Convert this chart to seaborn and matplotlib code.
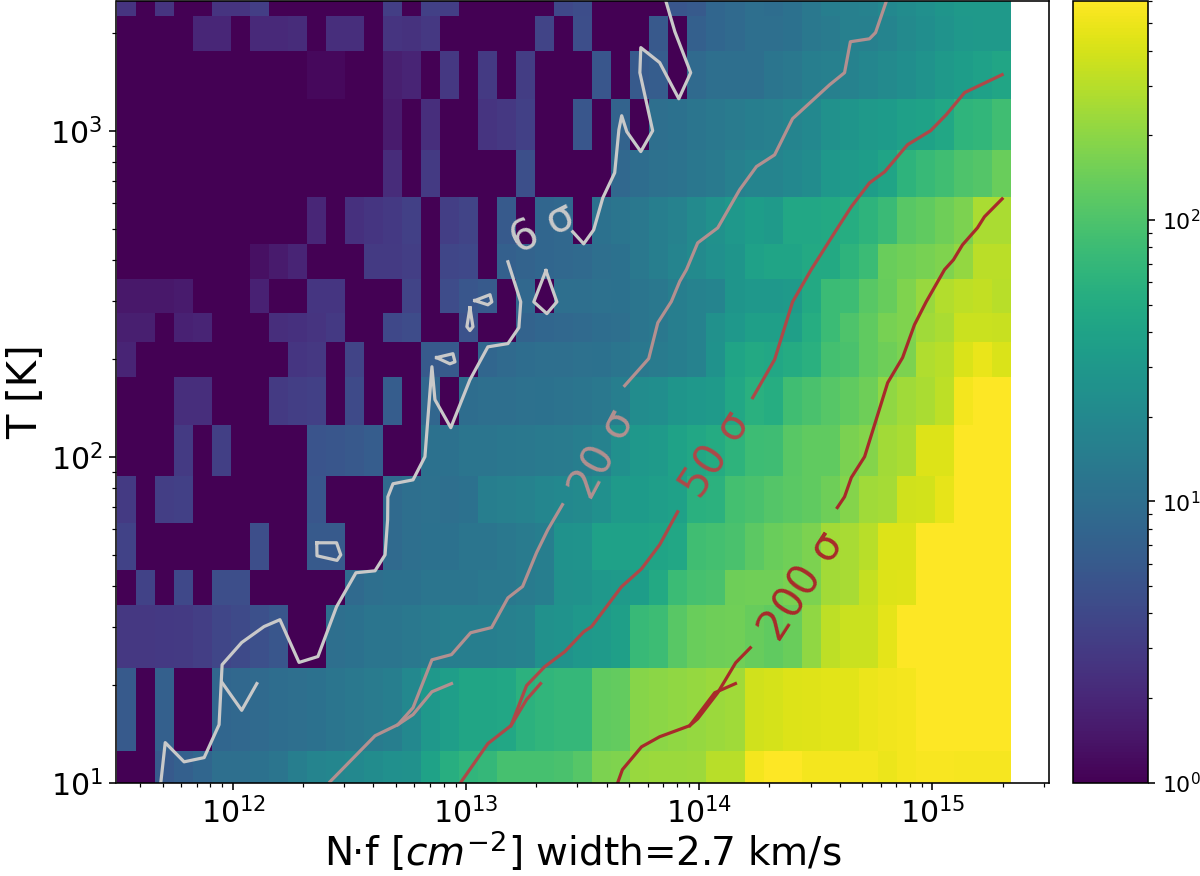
import numpy as np
import pandas as pd
import matplotlib
matplotlib.use("Agg")
import matplotlib.pyplot as plt
import seaborn as sns
from matplotlib.colors import LogNorm

# temperature grid, cell edges sit between the sampled temperatures
temp_edges = [10, 12.5, 22.5, 35, 45, 62.5, 87.5, 125, 175, 225, 275, 350, 450, 625, 875, 1250, 1750, 2250, 2500]

# significance per column density bin
row_2500 = [2.6, 1, 2.6, 1, 1, 2.6, 2.6, 3.2, 1, 1, 1, 1, 1, 1, 3.2, 1, 3.4,
            3.2, 1, 1, 1, 1, 1, 4, 4.4, 1, 1, 1, 1, 5.5, 6, 8, 9, 10,
            9.5, 11, 13, 15, 16, 17, 20, 22, 24, 28, 31, 31, 31]
row_2000 = [1, 1, 1, 1, 2, 2, 1, 2.1, 2.1, 2.2, 1, 2.3, 2.3, 1, 2.6, 2.5, 2.8,
            1, 1, 1, 1, 1, 3.6, 1, 4.5, 1, 1, 1, 5.8, 1, 7, 8, 9, 10,
            10, 11, 13, 14, 16, 16, 18, 21, 23, 27, 30, 31, 31]
row_1500 = [1, 1, 1, 1, 1, 1, 1, 1, 1, 1, 1.15, 1.15, 1, 1, 1.7, 1.9, 1,
            2.8, 1, 3, 1, 3.1, 1, 1, 1, 5.5, 1, 6, 6.5, 1, 9, 10, 10, 10,
            12, 13, 15, 16, 17, 19, 21, 23, 27, 31, 34, 38, 43]
row_1000 = [1, 1, 1, 1, 1, 1, 1, 1, 1, 1, 1, 1, 1, 1, 1.6, 1, 2.3,
            1, 1, 2.6, 2.8, 3.4, 1, 1, 5.6, 1, 7.5, 1, 10, 11, 12, 13, 14, 15,
            16, 18, 20, 25, 28, 31, 33, 37, 40, 45, 64, 68, 85]
row_750 = [1, 1, 1, 1, 1, 1, 1, 1, 1, 1, 1, 1, 1, 1, 2.2, 1, 3,
           1, 1, 1, 1, 4.6, 1, 1, 1, 1, 8.5, 9.5, 10.5, 11.5, 12.5, 13.5, 16, 18,
           18, 20, 22, 30, 32, 34, 42, 62, 75, 85, 100, 107, 140]
row_500 = [1, 1, 1, 1, 1, 1, 1, 1, 1, 1, 2, 1, 2.4, 2.7, 2.9, 3.4, 1,
           3.2, 3.6, 1, 6, 1, 8, 8.5, 1, 11, 12, 13, 15, 17, 21, 25, 30, 34,
           32, 45, 45, 47, 52, 63, 76, 115, 125, 145, 170, 265, 265]
row_400 = [1, 1, 1, 1, 1, 1, 1, 1.3, 1.6, 1.9, 1, 1, 1, 3, 3, 3.2, 1,
           3.8, 4, 1, 7, 7.5, 8, 8.5, 9, 10, 11, 13, 15, 18, 21, 24, 28, 38,
           42, 42, 47, 47, 63, 78, 140, 150, 160, 175, 215, 310, 310]
row_300 = [1.5, 1.5, 1.5, 1.6, 1, 1, 1, 1.8, 1, 1, 2.7, 2.7, 1, 1, 1, 3.6, 1,
           4.3, 5.5, 6, 1, 8.5, 1, 10, 10, 10.5, 11, 12, 13, 15, 17, 18, 28, 30,
           30, 32, 48, 78, 80, 115, 135, 175, 225, 285, 316, 330, 300]
row_250 = [1.7, 1.7, 1, 1.8, 1.9, 1, 1, 1, 2.3, 2.4, 2.6, 2.9, 1, 1, 4, 4.3, 1,
           1, 5, 1, 1, 7.5, 8, 8.5, 9, 9.5, 10, 12, 13, 15, 17, 25, 30, 36,
           36, 36, 53, 78, 100, 125, 160, 175, 240, 265, 360, 360, 350]
row_200 = [1.9, 1, 1, 1, 1, 1, 1, 1, 1, 2.7, 2.8, 1, 3.6, 1, 1, 1, 6,
           6, 1, 8, 9, 9.5, 10, 10, 10.5, 11, 12, 13, 14, 15, 17, 26, 42, 48,
           45, 50, 58, 88, 95, 125, 145, 170, 280, 300, 420, 490, 420]
row_150 = [1, 1, 1, 2.3, 2.3, 1, 1, 1, 3, 3.2, 3.4, 1, 4.2, 1, 6.5, 1, 8,
           1, 9.5, 10, 10, 10.5, 11, 11.5, 12, 13, 15, 22, 23, 28, 30, 32, 45, 58,
           53, 85, 95, 110, 125, 145, 205, 240, 265, 320, 540, 650, 650]
row_100 = [1, 1, 1, 3, 1, 3.3, 1, 1, 1, 1, 5.3, 5.5, 5.8, 6.5, 1, 1, 11,
           11, 12, 12, 12.5, 13, 13.5, 14, 15, 17, 24, 30, 32, 40, 45, 50, 63, 80,
           82, 115, 125, 125, 165, 185, 245, 265, 430, 430, 650, 650, 650]
row_75 = [3, 1, 3.2, 3.4, 1, 1, 1, 1, 1, 1, 5.5, 1, 1, 1, 9, 10, 10.5,
          10, 11, 15, 16, 17, 19, 20, 21, 24, 32, 33, 35, 38, 58, 60, 88, 95,
          108, 118, 125, 145, 185, 240, 255, 380, 390, 470, 650, 650, 650]
row_50 = [3.5, 1, 1, 1, 1, 1, 1, 4.5, 1, 1, 6, 6, 1, 1, 9, 10, 11,
          11, 12, 12, 13, 14, 15, 26, 27, 38, 38, 40, 42, 45, 85, 88, 95, 120,
          140, 150, 170, 250, 260, 300, 430, 430, 650, 650, 650, 650, 650]
row_40 = [1, 3.5, 1, 4, 1, 4.5, 4.5, 1, 1, 1, 1, 1, 9, 10, 11, 11, 12,
          12, 12, 13, 13, 14, 15, 25, 26, 30, 32, 34, 48, 78, 90, 95, 145, 150,
          150, 165, 170, 250, 260, 340, 430, 440, 650, 650, 650, 650, 650]
row_30 = [2.8, 2.8, 2.9, 3, 3.2, 3.8, 4.2, 4.8, 5.5, 1, 1, 10, 11, 12, 12, 13, 14,
          15, 15, 15, 16, 17, 25, 27, 30, 32, 36, 75, 80, 115, 140, 145, 150, 135,
          125, 140, 210, 320, 360, 360, 460, 640, 650, 650, 650, 650, 650]
row_15 = [6, 1, 7, 1, 1, 8, 8.5, 9, 9.5, 10, 11, 12, 13, 14, 15, 20, 30,
          35, 43, 43, 45, 60, 65, 70, 70, 125, 128, 190, 195, 205, 220, 230, 240, 380,
          400, 430, 440, 450, 450, 500, 520, 530, 640, 640, 640, 640, 640]
row_10 = [1, 1, 6, 7, 8, 10, 10, 11, 12, 15, 18, 19, 20, 22, 24, 25, 40,
          55, 65, 70, 90, 90, 92, 95, 110, 170, 175, 225, 230, 230, 235, 300, 300, 530,
          590, 590, 540, 540, 530, 530, 500, 530, 560, 560, 550, 550, 550]
rows = [row_10, row_15, row_30, row_40, row_50, row_75, row_100, row_150, row_200,
        row_250, row_300, row_400, row_500, row_750, row_1000, row_1500, row_2000, row_2500]

# contour traces, log10(N f) and log10(T)
c6_a_n = [11.69, 11.709, 11.79, 11.876, 11.94, 11.953, 12.037, 12.133, 12.201, 12.283, 12.364, 12.444, 12.527, 12.609, 12.652, 12.663, 12.664, 12.686, 12.772, 12.823, 12.853, 12.866, 12.934, 13.016, 13.093, 13.179, 13.226, 13.234, 13.179]
c6_a_t = [1.0, 1.123, 1.064, 1.077, 1.178, 1.362, 1.43, 1.479, 1.5, 1.369, 1.387, 1.54, 1.644, 1.65, 1.699, 1.807, 1.877, 1.917, 1.929, 2.0, 2.276, 2.175, 2.089, 2.236, 2.337, 2.347, 2.396, 2.475, 2.598]
c6_b_n = [13.457, 13.504, 13.547, 13.586, 13.637, 13.655, 13.667, 13.689, 13.749, 13.8, 13.745, 13.749, 13.83, 13.912, 13.963, 13.895, 13.856]
c6_b_t = [2.69, 2.653, 2.696, 2.794, 2.871, 3.003, 3.046, 2.997, 2.936, 3.0, 3.178, 3.255, 3.209, 3.098, 3.178, 3.304, 3.399]
c6_c_n = [11.953, 12.037, 12.102]
c6_c_t = [1.307, 1.222, 1.304]
c6_d_n = [12.359, 12.444, 12.462, 12.446, 12.36, 12.359]
c6_d_t = [1.736, 1.736, 1.699, 1.682, 1.696, 1.736]
c6_e_n = [12.873, 12.943, 12.952, 12.93, 12.873]
c6_e_t = [2.304, 2.316, 2.291, 2.285, 2.304]
c6_f_n = [13.016, 13.029, 13.016, 13.003, 13.016]
c6_f_t = [2.457, 2.399, 2.387, 2.399, 2.457]
c6_g_n = [13.037, 13.102, 13.11, 13.093, 13.037]
c6_g_t = [2.479, 2.497, 2.475, 2.466, 2.479]
c6_h_n = [13.342, 13.389, 13.346, 13.29, 13.342]
c6_h_t = [2.571, 2.475, 2.439, 2.475, 2.571]
c6_i_n = [12.604, 12.606]
c6_i_t = [2.0, 2.0]

c20_a_n = [12.416, 12.609, 12.707, 12.772, 12.853, 12.937, 13.019, 13.109, 13.179, 13.242, 13.302, 13.35, 13.413]
c20_a_t = [1.003, 1.144, 1.178, 1.23, 1.377, 1.393, 1.46, 1.476, 1.567, 1.602, 1.706, 1.776, 1.853]
c20_b_n = [12.707, 12.772, 12.853, 12.937]
c20_b_t = [1.178, 1.209, 1.279, 1.304]
c20_c_n = [13.68, 13.783, 13.822, 13.88, 13.916, 13.945, 13.993, 14.079, 14.173, 14.245, 14.323, 14.4, 14.559, 14.623, 14.648, 14.73, 14.756, 14.803]
c20_c_t = [2.218, 2.301, 2.411, 2.476, 2.538, 2.574, 2.656, 2.702, 2.819, 2.89, 2.926, 3.037, 3.141, 3.178, 3.273, 3.282, 3.301, 3.399]

c50_a_n = [12.976, 13.093, 13.192, 13.259, 13.337, 13.423, 13.504, 13.538, 13.666, 13.752, 13.83, 13.865, 13.907]
c50_a_t = [1.0, 1.12, 1.175, 1.298, 1.356, 1.402, 1.463, 1.479, 1.601, 1.656, 1.73, 1.776, 1.831]
c50_b_n = [13.192, 13.259, 13.319]
c50_b_t = [1.175, 1.255, 1.304]
c50_c_n = [14.229, 14.323, 14.4, 14.48, 14.588, 14.652, 14.73, 14.795, 14.893, 14.992, 15.059, 15.138, 15.299]
c50_c_t = [2.181, 2.298, 2.475, 2.574, 2.696, 2.767, 2.84, 2.874, 2.957, 3.0, 3.049, 3.117, 3.172]

c200_a_n = [13.65, 13.67, 13.752, 13.83, 13.959, 13.993, 14.079, 14.156, 14.219]
c200_a_t = [1.0, 1.04, 1.11, 1.141, 1.175, 1.196, 1.276, 1.368, 1.414]
c200_b_n = [13.959, 14.066, 14.155]
c200_b_t = [1.175, 1.276, 1.304]
c200_c_n = [14.592, 14.623, 14.652, 14.709, 14.808, 14.872, 14.923, 14.973, 15.052, 15.09, 15.129, 15.193, 15.223, 15.299]
c200_c_t = [1.844, 1.877, 1.936, 2.0, 2.227, 2.304, 2.405, 2.475, 2.574, 2.604, 2.65, 2.702, 2.736, 2.791]

c6_color = "#c9c9c9"
c20_color = "#b39090"
c50_color = "#ae4848"
c200_color = "#a82a2a"

traces = [(c6_a_n, c6_a_t, c6_color), (c6_b_n, c6_b_t, c6_color), (c6_c_n, c6_c_t, c6_color),
          (c6_d_n, c6_d_t, c6_color), (c6_e_n, c6_e_t, c6_color), (c6_f_n, c6_f_t, c6_color),
          (c6_g_n, c6_g_t, c6_color), (c6_h_n, c6_h_t, c6_color), (c6_i_n, c6_i_t, c6_color),
          (c20_a_n, c20_a_t, c20_color), (c20_b_n, c20_b_t, c20_color), (c20_c_n, c20_c_t, c20_color),
          (c50_a_n, c50_a_t, c50_color), (c50_b_n, c50_b_t, c50_color), (c50_c_n, c50_c_t, c50_color),
          (c200_a_n, c200_a_t, c200_color), (c200_b_n, c200_b_t, c200_color), (c200_c_n, c200_c_t, c200_color)]

# label text, log10 position, angle, colour
labels = [("6 σ", 13.33, 2.70, 27, c6_color),
          ("20 σ", 13.585, 2.006, 62, c20_color),
          ("50 σ", 14.07, 2.005, 57, c50_color),
          ("200 σ", 14.44, 1.601, 57, c200_color)]

log_edges_n = np.linspace(11.5, 15.5, 50)[:48]
log_edges_t = np.log10(temp_edges)
log_mid_n = (log_edges_n[:-1] + log_edges_n[1:]) / 2
log_mid_t = (log_edges_t[:-1] + log_edges_t[1:]) / 2

records = []
for i, row in enumerate(rows):
    for j, val in enumerate(row):
        records.append((10 ** log_mid_n[j], 10 ** log_mid_t[i], val))
df = pd.DataFrame(records, columns=["N", "T", "sigma"])

fig = plt.figure(figsize=(1200 / 144, 876 / 144), dpi=144)
ax = fig.add_axes([116.5 / 1200, 1 - 782.7 / 876, (1049 - 116.5) / 1200, 781.7 / 876])
cax = fig.add_axes([1073 / 1200, 1 - 782.7 / 876, 74.7 / 1200, 781.7 / 876])

sns.histplot(data=df, x="N", y="T", weights="sigma", bins=(log_edges_n, log_edges_t),
             log_scale=(True, True), cmap="viridis", ax=ax)
mesh = ax.collections[-1]
mesh.set_norm(LogNorm(vmin=1, vmax=600))
fig.colorbar(mesh, cax=cax)

for xs, ys, col in traces:
    ax.plot(10 ** np.array(xs), 10 ** np.array(ys), color=col, lw=1.6)

for txt, lx, ly, ang, col in labels:
    ax.text(10 ** lx, 10 ** ly, txt, color=col, fontsize=21, rotation=ang,
            ha="center", va="center", rotation_mode="anchor")

ax.set_xlim(10 ** 11.5, 10 ** 15.5)
ax.set_ylim(10, 2500)
ax.set_xlabel("N·f [$cm^{-2}$] width=2.7 km/s", fontsize=19.5, labelpad=0)
ax.set_ylabel("T [K]", fontsize=20, labelpad=2)
ax.tick_params(axis="both", which="major", labelsize=15)
cax.tick_params(axis="y", which="major", labelsize=11)

fig.savefig("out.png", dpi=144)
